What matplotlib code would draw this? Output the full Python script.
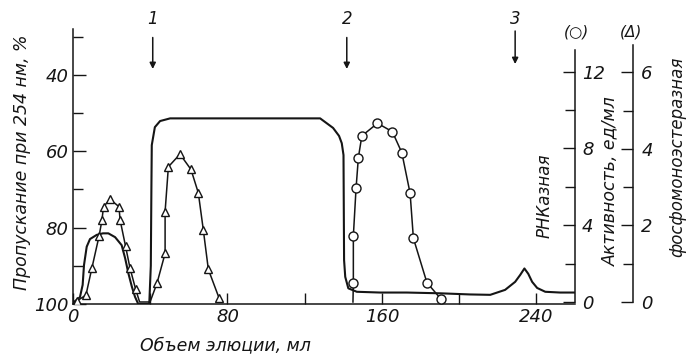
import matplotlib.pyplot as plt
from matplotlib.ticker import MultipleLocator

# UV transmission curve (solid line)
uv_ml = [0, 3.6, 5.0, 5.7, 7.1, 8.8, 12.3, 15.5, 18.3, 21.8, 25.2, 27.0, 28.7,
         30.5, 32.1, 33.8, 39.5, 40.3, 40.6, 40.8, 42.4, 45.1, 50.3, 128.0,
         134.7, 137.8, 139.2, 140.1, 140.4, 141.0, 142.6, 147.0, 159.1, 172.9,
         190.2, 205.7, 216.1, 223.8, 229.0, 231.6, 233.8, 235.8, 237.8, 240.4,
         244.6, 252.3, 260.0]
uv_T = [99.7, 98.2, 95.0, 89.8, 85.0, 83.0, 81.9, 81.5, 81.5, 82.5, 84.6, 88.0,
        92.0, 95.5, 98.1, 100, 100, 90.0, 70.0, 58.4, 53.7, 52.1, 51.4, 51.4,
        53.9, 56.0, 57.9, 61.0, 88.5, 92.9, 95.9, 96.8, 97.0, 97.0, 97.2, 97.5,
        97.6, 96.3, 94.2, 92.4, 90.7, 92.1, 94.2, 95.8, 96.8, 97.0, 97.0]

# phosphomonoesterase activity (triangles)
pme_ml = [0.0, 2.1, 6.7, 9.8, 13.5, 15.0, 15.8, 19.2, 23.8, 24.4, 27.2, 29.5,
          32.4, 34.5, 39.9, 43.5, 47.7, 47.7, 49.4, 55.4, 61.1, 64.9, 67.5,
          70.1, 75.6, 77.4]
pme_act = [0.0, 0.03, 0.18, 0.89, 1.72, 2.14, 2.49, 2.68, 2.49, 2.14, 1.46,
           0.89, 0.34, 0.0, 0.0, 0.49, 1.27, 2.36, 3.53, 3.86, 3.46, 2.85, 1.88,
           0.85, 0.11, 0.0]
pme_marked = [False, True, True, True, True, True, True, True, True, True,
              True, True, True, False, False, True, True, True, True, True,
              True, True, True, True, True, False]

# RNase activity (circles); first point is where the line meets the baseline
rn_ml = [145.0, 145.2, 145.2, 146.6, 147.8, 149.6, 157.7, 165.4, 170.3, 174.6,
         176.3, 183.3, 190.7]
rn_act = [0.0, 1.01, 3.44, 5.92, 7.52, 8.65, 9.31, 8.87, 7.78, 5.66, 3.32,
          1.01, 0.14]

# fraction arrows
arrow_ml = [41.3, 141.8, 229.0]
arrow_lab = ['1', '2', '3']

plt.rcParams['font.family'] = ['DejaVu Sans']
plt.rcParams['font.style'] = 'italic'
ink = '#151515'

W, H = 690, 359
fig = plt.figure(figsize=(W / 100, H / 100), dpi=100)
ax = fig.add_axes([73 / W, 55 / H, 502 / W, 275 / H])

ax.plot(uv_ml, uv_T, color=ink, lw=1.5, zorder=3)
ax.set_xlim(0, 260)
ax.set_ylim(100, 28)
ax.xaxis.set_major_locator(MultipleLocator(80))
ax.xaxis.set_minor_locator(MultipleLocator(40))
ax.set_yticks([40, 60, 80, 100])
ax.set_yticks([30, 50, 70, 90], minor=True)
ax.tick_params(which='both', direction='in', colors=ink, labelsize=13, width=1)
ax.tick_params(axis='y', which='major', length=9, pad=3)
ax.tick_params(axis='y', which='minor', length=7)
ax.tick_params(axis='x', which='both', length=8, pad=3)
for s in ['top', 'right']:
    ax.spines[s].set_visible(False)
for s in ['left', 'bottom']:
    ax.spines[s].set_color(ink)
    ax.spines[s].set_linewidth(1.1)

# RNase axis
axc = ax.twinx()
axc.set_ylim(-2 / 19.2, 273 / 19.2)
axc.plot(rn_ml, rn_act, color=ink, lw=1.1, zorder=4)
axc.plot(rn_ml[1:], rn_act[1:], ls='none', marker='o', ms=6.5,
         mfc='white', mec=ink, mew=1.0, zorder=5)
axc.set_yticks([0, 4, 8, 12])
axc.set_yticks([2, 6, 10], minor=True)
axc.spines['right'].set_bounds(0, 13.1)

# phosphomonoesterase axis
axt = ax.twinx()
axt.set_ylim(-2 / 38.3, 273 / 38.3)
axt.spines['right'].set_position(('axes', (633 - 73) / 502))
axt.plot(pme_ml, pme_act, color=ink, lw=1.1, zorder=4)
axt.plot([m for m, k in zip(pme_ml, pme_marked) if k],
         [a for a, k in zip(pme_act, pme_marked) if k],
         ls='none', marker='^', ms=6.2, mfc='white', mec=ink, mew=1.0, zorder=5)
axt.set_yticks([0, 2, 4, 6])
axt.set_yticks([1, 3, 5], minor=True)
axt.spines['right'].set_bounds(0, 6.7)

for a, pad in [(axc, 5), (axt, 6)]:
    for s in ['top', 'left', 'bottom']:
        a.spines[s].set_visible(False)
    a.spines['right'].set_color(ink)
    a.spines['right'].set_linewidth(1.1)
    a.tick_params(which='both', direction='in', colors=ink, labelsize=13,
                  width=1, pad=pad)
    a.tick_params(which='major', length=9)
    a.tick_params(which='minor', length=7)

# arrows marking fractions
for xm, lab in zip(arrow_ml, arrow_lab):
    top = 29.5 if lab != '3' else 27.8
    tip = 39.2 if lab != '3' else 37.9
    ax.annotate('', xy=(xm, tip), xytext=(xm, top),
                arrowprops=dict(arrowstyle='-|>', color=ink, lw=1.1,
                                mutation_scale=9))
    ax.text(xm, 25.4, lab, ha='center', va='center', fontsize=12, color=ink)

# labels
fig.text(22 / W, 1 - 162 / H, 'Пропускание при 254 нм, %', rotation=90,
         ha='center', va='center', fontsize=12.5, color=ink)
fig.text(225 / W, 1 - 345 / H, 'Объем элюции, мл', ha='center', va='center',
         fontsize=12.5, color=ink)
fig.text(545 / W, 1 - 196 / H, 'РНКазная', rotation=90, ha='center',
         va='center', fontsize=12, color=ink)
fig.text(610 / W, 1 - 181 / H, 'Активность, ед/мл', rotation=90, ha='center',
         va='center', fontsize=12.5, color=ink)
fig.text(677 / W, 1 - 157 / H, 'фосфомоноэстеразная', rotation=90,
         ha='center', va='center', fontsize=12, color=ink)
fig.text(576 / W, 1 - 32 / H, '(○)', ha='center', va='center', fontsize=11,
         color=ink)
fig.text(631 / W, 1 - 32 / H, '(Δ)', ha='center', va='center', fontsize=11,
         color=ink)

fig.savefig('out.png', dpi=100)
